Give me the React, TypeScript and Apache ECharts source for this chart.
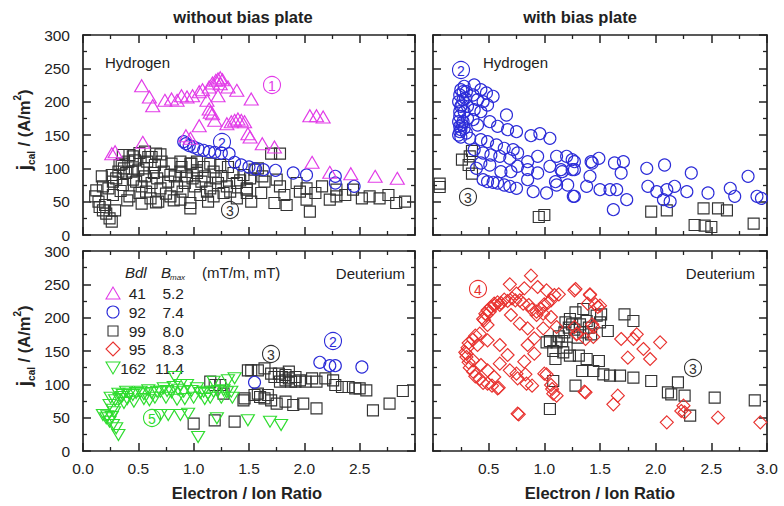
import React, { useEffect, useRef } from 'react';
import * as echarts from 'echarts';

const FONT = '"Liberation Sans", Arial, Helvetica, sans-serif';
const INK = '#222222';
const MAGENTA = '#e23ce8';
const BLUE = '#2c2cd8';
const BLACK = '#333333';
const RED = '#e8322f';
const GREEN = '#2fdc2f';

// axis settings
const X_MIN = 0;
const X_MAX = 3;
const X_STEP = 0.5;
const Y_MIN = 0;
const Y_MAX = 300;
const Y_STEP = 50;

// ---------- Top-left: Hydrogen, without bias plate ----------
const tlTriangles41 = [
  [0.26,122],[0.29,125],[0.54,139],[0.53,224],[0.60,207],[0.63,194],[0.74,202],[0.80,204],[0.85,202],[0.89,209],
  [0.94,207],[0.99,209],[1.05,215],[1.08,218],[1.12,202],[1.14,222],[1.17,228],[1.20,232],[1.22,234],[1.24,236],
  [1.26,233],[1.24,227],[1.22,209],[1.31,222],[1.39,217],[1.52,204],[1.14,189],[1.15,184],[1.17,182],[1.19,172],
  [1.05,164],[1.30,167],[1.34,170],[1.37,172],[1.40,174],[1.43,172],[1.46,170],[1.49,152],[1.51,147],[0.93,149],
  [0.97,145],[1.62,137],[1.73,132],[2.07,109],[2.05,179],[2.11,179],[2.17,177],[2.23,94],[2.42,92],[2.64,88],[2.84,85]
];
const tlCircles92 = [
  [0.91,140],[0.93,137],[0.96,134],[1.00,132],[1.04,129],[1.09,127],[1.14,125],[1.19,124],[1.25,123],[1.32,122],
  [1.37,109],[1.43,105],[1.50,102],[1.56,99],[1.63,98],[1.74,97],[1.90,93],[2.02,90],[2.28,88],[2.28,78],[2.45,73]
];
const tlSquares99 = [
  [0.42,120],[0.51,123],[0.62,117],[0.70,121],
  [0.33,105],[0.41,110],[0.47,112],[0.58,110],[0.65,105],[0.71,110],[0.80,107],[0.88,110],[0.97,107],[1.03,110],[1.15,107],[1.24,105],[1.31,102],
  [0.17,88],[0.26,90],[0.32,95],[0.39,93],[0.50,98],[0.56,88],[0.64,93],[0.73,95],[0.79,90],[0.88,95],[0.94,88],[1.03,93],[1.10,88],[1.18,95],[1.25,88],[1.36,93],[1.45,90],
  [0.18,73],[0.27,80],[0.36,75],[0.45,83],[0.53,73],[0.62,78],[0.70,70],[0.77,80],[0.85,73],[0.92,78],[1.01,73],[1.07,80],[1.15,70],[1.22,78],[1.30,73],[1.39,78],[1.48,70],
  [0.11,58],[0.27,60],[0.42,58],[0.51,63],[0.61,55],[0.68,50],[0.79,58],[0.88,53],[0.97,48],[1.06,60],[1.18,58],[1.27,63],[1.39,55],
  [0.14,50],[0.15,42],[0.18,37],[0.21,32],[0.24,25],[0.26,20],[0.20,45],[0.29,37],[0.97,40],[0.12,67],[0.23,70],
  [0.35,107],[0.59,117],[0.66,122],[0.89,102],[0.98,107],[1.03,97],[1.09,102],
  [0.30,85],[0.37,100],[0.44,95],[0.48,80],[0.55,100],[0.57,65],[0.67,85],[0.75,62],[0.83,88],[0.90,65],[0.99,85],
  [1.12,65],[1.20,85],[1.33,65],[1.42,82],[0.34,66],[0.40,52],[0.53,47],[0.66,49],[0.82,52],[1.13,50],[0.36,120],[0.45,118],[0.56,125],
  [1.70,122],[1.78,122],[1.55,98],[1.51,85],[1.48,68],[1.52,50],[1.61,63],[1.64,80],[1.73,48],[1.75,83],[1.78,73],[1.82,60],
  [1.84,45],[1.93,78],[1.96,65],[2.02,70],[2.02,53],[2.05,35],[2.10,63],[2.16,73],[2.23,53],[2.29,68],[2.29,58],[2.37,60],
  [2.44,68],[2.52,55],[2.59,58],[2.68,55],[2.76,60],[2.83,48],[2.91,50],[1.58,100],[1.62,88],[1.48,63]
];

// ---------- Top-right: Hydrogen, with bias plate ----------
const trCircles92 = [
  [0.25,218],[0.28,223],[0.24,210],[0.27,203],[0.25,193],[0.28,185],[0.24,178],[0.27,170],[0.24,163],[0.25,158],
  [0.30,153],[0.33,145],[0.30,215],[0.31,193],[0.31,175],[0.28,160],[0.23,200],[0.24,185],[0.23,170],[0.24,155],
  [0.26,165],[0.26,195],[0.27,215],[0.29,205],[0.23,150],[0.25,147],
  [0.37,225],[0.43,218],[0.48,213],[0.54,208],[0.36,210],[0.40,203],[0.45,200],[0.49,195],[0.37,188],[0.43,185],
  [0.36,173],[0.40,165],[0.66,180],[0.51,170],[0.58,163],[0.67,158],[0.75,155],[0.43,143],[0.49,140],[0.57,135],
  [0.64,130],[0.72,128],[0.88,149],[0.96,152],[1.05,145],
  [0.37,128],[0.45,123],[0.52,120],[0.60,118],[0.69,115],[0.76,123],[0.85,110],[0.94,118],[1.11,118],[1.20,118],
  [1.27,110],[1.05,103],[1.15,98],[1.27,98],[1.42,110],[0.43,108],[0.51,105],[0.61,95],[0.70,95],[0.76,103],
  [0.85,98],[0.94,93],[0.39,100],
  [0.45,83],[0.49,80],[0.54,79],[0.58,78],[0.64,75],[0.69,73],[0.75,70],[0.85,83],[0.90,65],[1.02,63],[1.11,75],
  [1.21,75],[1.27,58],[1.38,73],
  [1.25,113],[1.16,95],[1.25,98],[1.10,80],[1.26,58],[1.41,88],[1.43,108],[1.49,115],[1.50,68],[1.59,68],[1.63,108],
  [1.71,110],[1.69,93],[1.65,68],[1.74,53],[1.62,38],[1.92,100],[2.08,105],[1.93,73],[2.01,65],[2.10,68],[2.17,73],
  [2.07,53],[2.13,50],[2.28,65],[2.32,93],[2.47,63],[2.67,70],[2.71,58],[2.83,88],[2.91,58],[2.95,55]
];
const trSquares99 = [
  [0.06,77],[0.06,72],[0.26,113],[0.33,118],[0.35,126],[0.32,105],[0.35,92],[0.95,27],[1.00,30],
  [1.96,35],[2.10,37],[2.43,40],[2.56,40],[2.64,37],[2.35,15],[2.44,14],[2.50,12],[2.88,17]
];

// ---------- Bottom-left: Deuterium, without bias plate ----------
const blTriangles162 = [
  [0.18,54],[0.21,49],[0.24,44],[0.26,51],[0.27,39],[0.30,34],[0.32,24],[0.24,69],[0.29,76],[0.32,86],[0.35,81],
  [0.39,89],[0.45,84],[0.52,89],[0.59,91],[0.67,89],[0.73,94],[0.82,96],[0.88,99],[0.91,89],[0.83,111],[0.94,99],
  [1.03,94],[1.09,89],[1.18,104],[1.18,89],[1.27,91],[1.31,106],[1.37,109],[1.34,89],[0.70,54],[0.77,54],[0.88,54],
  [0.95,56],[1.04,21],[1.21,49],[1.49,46],[1.69,44],[1.79,39],
  [0.36,84],[0.42,86],[0.48,87],[0.55,85],[0.62,87],[0.70,89],[0.76,90],[0.80,88],[0.86,92],[0.98,90],[1.06,87],
  [1.13,86],[1.22,90],[1.30,88],[0.33,78],[0.37,72],[0.27,62],[0.28,58],[0.22,52],[0.25,80],[0.40,78],[0.46,74],
  [0.55,78],[0.60,76],[0.65,80],[0.75,80],[0.85,77],[0.92,78],[1.00,80],[1.10,78],[1.15,80],[1.25,80],[1.35,80]
];
const blSquares99 = [
  [1.52,121],[1.58,121],[1.64,124],[1.70,116],[1.77,116],[1.83,114],[1.86,109],[1.92,111],[1.96,106],[2.01,104],
  [2.07,109],[2.11,104],[2.19,109],[2.26,106],[2.28,99],[2.34,96],[2.40,96],[2.46,94],[2.50,94],[2.56,91],[1.83,106],
  [1.88,104],[1.86,119],[1.80,111],[1.73,111],[1.92,104],[1.78,104],
  [1.46,79],[1.55,84],[1.60,81],[1.64,79],[1.70,76],[1.75,71],[1.83,74],[1.90,69],[1.99,71],[2.11,64],[2.62,61],
  [2.77,71],[2.89,90],[1.58,86],[1.67,84],
  [1.15,104],[1.19,99],[1.24,99],[1.27,86],[1.45,76],[1.00,41],[1.19,46],[1.37,44],[1.49,121]
];
const blCircles92 = [[1.55,103],[2.14,133],[2.23,128],[2.28,128],[2.52,126]];

// ---------- Bottom-right: Deuterium, with bias plate ----------
const brDiamonds95 = [
  [0.88,263],[0.69,250],[0.60,219],[0.55,221],[0.51,209],[0.48,204],[0.46,196],[0.49,189],[0.75,236],[0.82,244],
  [0.94,246],[1.02,241],[1.09,234],[1.27,241],[1.41,234],[1.48,216],[0.70,204],[0.78,191],[0.85,184],[0.93,204],
  [0.99,206],[1.06,201],[1.11,186],[0.99,184],[0.91,169],[0.85,159],[0.91,146],[0.82,134],[0.75,116],[0.67,144],
  [0.60,159],[0.49,166],[0.40,159],[0.30,146],[0.36,136],[0.43,129],[0.49,121],[0.55,111],[0.58,94],[0.60,131],
  [0.69,121],[0.76,109],[0.84,101],[0.76,56],[1.00,116],[1.06,99],[1.08,86],[1.36,89],[1.29,176],[1.44,171],
  [1.39,221],[1.44,186],[1.27,186],
  [0.45,198],[0.47,206],[0.49,211],[0.52,216],[0.55,218],[0.58,223],[0.61,222],[0.64,227],[0.67,225],[0.71,229],
  [0.74,226],[0.78,226],[0.81,221],[0.86,219],[0.89,212],[0.93,209],[0.97,213],[1.00,220],[1.03,222],[1.06,226],
  [0.29,148],[0.30,141],[0.32,133],[0.33,125],[0.36,119],[0.38,112],[0.42,108],[0.45,102],[0.49,101],[0.53,98],
  [0.31,155],[0.32,162],[0.36,167],[0.38,173],[0.42,176],
  [1.28,243],[1.41,235],[1.13,235],[1.46,220],[1.50,218],[1.69,168],[1.80,168],[1.83,175],[2.04,163],[1.89,153],
  [1.75,140],[1.95,138],[1.37,168],[1.29,175],[1.43,190],[1.02,115],[1.07,93],[1.11,83],[1.37,88],[1.66,83],
  [1.62,70],[0.77,55],[2.25,68],[2.23,60],[2.26,58],[2.56,50],[2.10,43],[2.94,43],[0.89,98],[0.83,115],[0.59,95]
];
const brSquares99 = [
  [1.28,208],[1.35,213],[1.23,198],[1.19,193],[1.25,190],[1.32,190],[1.38,195],[1.47,203],[1.51,205],[1.50,193],
  [1.57,180],[1.72,205],[1.80,195],[1.05,165],[1.11,163],[1.02,163],[1.08,150],[1.10,138],[1.17,148],[1.23,143],
  [1.31,143],[1.38,138],[1.49,135],[1.16,165],[1.20,155],[1.34,120],[1.44,120],[1.53,115],[1.59,113],[1.68,113],
  [1.80,110],[1.96,105],[1.08,105],[1.28,98],[1.05,63],[2.11,88],[2.20,103],[2.14,85],[2.26,83],[2.31,53],
  [2.53,80],[2.89,76],[1.13,172],[1.18,178],[1.22,185],[1.27,182],[1.30,170],[1.35,178],[1.40,185],[1.42,175]
];

// legend rows
const legendBdl = ['41', '92', '99', '95', '162'];
const legendBmax = ['5.2', '7.4', '8.0', '8.3', '11.4'];

const GRIDS = [
  { left: 83, top: 35, width: 332, height: 200 },
  { left: 433, top: 35, width: 334, height: 200 },
  { left: 83, top: 251, width: 332, height: 200 },
  { left: 433, top: 251, width: 334, height: 200 },
];

function scatter(data: number[][], grid: number, symbol: string, size: any, color: string, rotate = 0) {
  return {
    type: 'scatter',
    data,
    xAxisIndex: grid,
    yAxisIndex: grid,
    symbol,
    symbolSize: size,
    symbolRotate: rotate,
    silent: true,
    itemStyle: { color: 'rgba(0,0,0,0)', borderColor: color, borderWidth: 1.15, opacity: 1 },
  };
}

const axisLine = { show: true, onZero: false, lineStyle: { color: INK, width: 1.7 } };
const tick = { show: true, inside: true, length: 8, lineStyle: { color: INK, width: 1.5 } };
const minorTick = { show: true, splitNumber: 2, length: 4, lineStyle: { color: INK, width: 1.3 } };
const labelStyle = { color: INK, fontSize: 15.5, fontFamily: FONT };

function xAxis(grid: number, position: string, showLabel: boolean, hide: number | null) {
  return {
    type: 'value', gridIndex: grid, position, min: X_MIN, max: X_MAX, interval: X_STEP,
    axisLine, axisTick: tick, minorTick, splitLine: { show: false }, minorSplitLine: { show: false },
    axisLabel: {
      show: showLabel, margin: 9, ...labelStyle,
      formatter: (v: number) => (hide !== null && Math.abs(v - hide) < 1e-6 ? '' : v.toFixed(1)),
    },
  };
}
function yAxis(grid: number, position: string, showLabel: boolean) {
  return {
    type: 'value', gridIndex: grid, position, min: Y_MIN, max: Y_MAX, interval: Y_STEP,
    axisLine, axisTick: tick, minorTick, splitLine: { show: false }, minorSplitLine: { show: false },
    axisLabel: { show: showLabel, margin: 13, ...labelStyle },
  };
}

function txt(x: number, y: number, text: string, extra: any = {}) {
  return {
    type: 'text', x, y, silent: true,
    style: { text, fill: INK, fontSize: 15, fontFamily: FONT, align: 'left', verticalAlign: 'middle', ...extra },
  };
}

function circled(x: number, y: number, n: string, color: string) {
  return {
    type: 'group', x, y, silent: true,
    children: [
      { type: 'circle', shape: { cx: 0, cy: 0, r: 8.5 }, style: { fill: 'none', stroke: color, lineWidth: 1.1 } },
      { type: 'text', x: 0, y: 0.5, style: { text: n, fill: color, fontSize: 14, fontFamily: FONT, align: 'center', verticalAlign: 'middle' } },
    ],
  };
}

function yTitle(x: number, y: number) {
  return {
    type: 'text', x, y, rotation: Math.PI / 2, silent: true,
    style: {
      text: '{j|j}{s|cal}{m| / (A/m}{p|2}{m|)}',
      align: 'center', verticalAlign: 'middle', fill: INK, fontFamily: FONT, fontWeight: 'bold',
      rich: {
        j: { fontSize: 20, fontWeight: 'bold', fontFamily: FONT, fill: INK, lineHeight: 24, verticalAlign: 'middle' },
        s: { fontSize: 10, fontWeight: 'bold', fontFamily: FONT, fill: INK, lineHeight: 12, verticalAlign: 'bottom' },
        m: { fontSize: 16.5, fontWeight: 'bold', fontFamily: FONT, fill: INK, lineHeight: 24, verticalAlign: 'middle' },
        p: { fontSize: 10, fontWeight: 'bold', fontFamily: FONT, fill: INK, lineHeight: 12, verticalAlign: 'top' },
      },
    },
  };
}

function legendGraphics() {
  const rows = [293, 312, 331, 349, 368];
  const sx = 113;
  const els: any[] = [];
  const st = (c: string) => ({ fill: 'none', stroke: c, lineWidth: 1.1 });
  els.push({ type: 'polygon', silent: true, shape: { points: [[sx, rows[0] - 6], [sx - 7, rows[0] + 6], [sx + 7, rows[0] + 6]] }, style: st(MAGENTA) });
  els.push({ type: 'circle', silent: true, shape: { cx: sx, cy: rows[1], r: 6 }, style: st(BLUE) });
  els.push({ type: 'rect', silent: true, shape: { x: sx - 5, y: rows[2] - 5, width: 10, height: 10 }, style: st(BLACK) });
  els.push({ type: 'polygon', silent: true, shape: { points: [[sx, rows[3] - 7], [sx + 7, rows[3]], [sx, rows[3] + 7], [sx - 7, rows[3]]] }, style: st(RED) });
  els.push({ type: 'polygon', silent: true, shape: { points: [[sx - 7, rows[4] - 6], [sx + 7, rows[4] - 6], [sx, rows[4] + 6]] }, style: st(GREEN) });
  rows.forEach((ry, i) => {
    els.push(txt(146, ry, legendBdl[i], { align: 'right', fontSize: 15.5 }));
    els.push(txt(184, ry, legendBmax[i], { align: 'right', fontSize: 15.5 }));
  });
  els.push(txt(125, 272, 'Bdl', { fontStyle: 'italic' }));
  els.push(txt(161, 272, 'B', { fontStyle: 'italic' }));
  els.push(txt(170, 277, 'max', { fontStyle: 'italic', fontSize: 8 }));
  els.push(txt(202, 272, '(mT/m, mT)'));
  return els;
}

export default function App() {
  const ref = useRef<HTMLDivElement>(null);
  useEffect(() => {
    if (!ref.current) return;
    const chart = echarts.init(ref.current, undefined, { renderer: 'svg' });
    const option: any = {
      animation: false,
      backgroundColor: '#ffffff',
      grid: GRIDS,
      xAxis: [
        xAxis(0, 'bottom', false, null), xAxis(1, 'bottom', false, null),
        xAxis(2, 'bottom', true, 3), xAxis(3, 'bottom', true, 0),
        xAxis(0, 'top', false, null), xAxis(1, 'top', false, null),
        xAxis(2, 'top', false, null), xAxis(3, 'top', false, null),
      ],
      yAxis: [
        yAxis(0, 'left', true), yAxis(1, 'left', false),
        yAxis(2, 'left', true), yAxis(3, 'left', false),
        yAxis(0, 'right', false), yAxis(1, 'right', false),
        yAxis(2, 'right', false), yAxis(3, 'right', false),
      ],
      series: [
        scatter(tlSquares99, 0, 'rect', 11, BLACK),
        scatter(tlCircles92, 0, 'circle', 12, BLUE),
        scatter(tlTriangles41, 0, 'triangle', [14, 12], MAGENTA),
        scatter(trSquares99, 1, 'rect', 11, BLACK),
        scatter(trCircles92, 1, 'circle', 12, BLUE),
        scatter(blSquares99, 2, 'rect', 11, BLACK),
        scatter(blCircles92, 2, 'circle', 12, BLUE),
        scatter(blTriangles162, 2, 'triangle', [13, 11], GREEN, 180),
        scatter(brSquares99, 3, 'rect', 11, BLACK),
        scatter(brDiamonds95, 3, 'diamond', 13, RED),
      ],
      graphic: [
        txt(243, 17, 'without bias plate', { align: 'center', fontWeight: 'bold', fontSize: 16.5 }),
        txt(580, 17, 'with bias plate', { align: 'center', fontWeight: 'bold', fontSize: 16.5 }),
        txt(247, 493, 'Electron / Ion Ratio', { align: 'center', fontWeight: 'bold', fontSize: 16.5 }),
        txt(600, 493, 'Electron / Ion Ratio', { align: 'center', fontWeight: 'bold', fontSize: 16.5 }),
        yTitle(24, 130),
        yTitle(24, 346),
        txt(105, 62, 'Hydrogen'),
        txt(483, 62, 'Hydrogen'),
        txt(405, 273, 'Deuterium', { align: 'right' }),
        txt(755, 273, 'Deuterium', { align: 'right' }),
        circled(272, 85, '1', MAGENTA),
        circled(222, 142, '2', BLUE),
        circled(230, 210, '3', BLACK),
        circled(461, 70, '2', BLUE),
        circled(468, 197, '3', BLACK),
        circled(333, 341, '2', BLUE),
        circled(271, 354, '3', BLACK),
        circled(152, 418, '5', GREEN),
        circled(478, 289, '4', RED),
        circled(693, 368, '3', BLACK),
        ...legendGraphics(),
      ],
    };
    chart.setOption(option);
    return () => chart.dispose();
  }, []);
  return <div ref={ref} style={{ position: 'absolute', left: 0, top: 0, width: 784, height: 506 }} />;
}
